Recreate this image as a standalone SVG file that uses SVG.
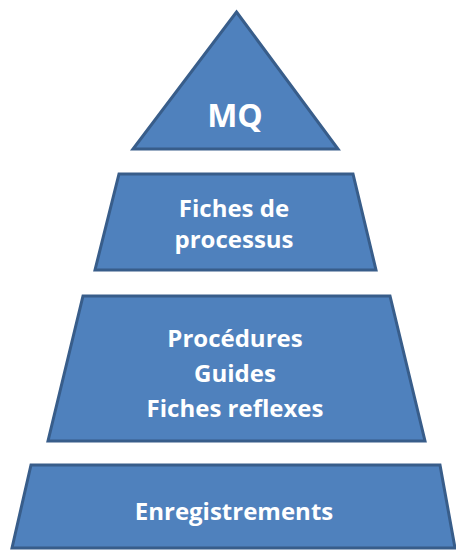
<svg xmlns="http://www.w3.org/2000/svg" width="456" height="550" viewBox="0 0 456 550">
<style>
.shape{fill:#4F81BD;stroke:#385D8A;stroke-width:3;stroke-linejoin:miter}
.lbl{font-family:"Open Sans","Liberation Sans",sans-serif;font-weight:bold;fill:#FFFFFF;text-anchor:middle;font-size:24px}
.big{font-size:32px}
</style>
<rect width="456" height="550" fill="#FFFFFF"/>
<g id="connectors"></g>
<g id="mq">
<polygon class="shape" points="236.5,12 338,149 133,149"/>
<text class="lbl big" x="235" y="127">MQ</text>
</g>
<g id="fiches-processus">
<polygon class="shape" points="119,174 353,174 376,270 95,270"/>
<text class="lbl" x="234" y="217">Fiches de</text>
<text class="lbl" x="234" y="248">processus</text>
</g>
<g id="procedures">
<polygon class="shape" points="83,296 390,296 425,441 48,441"/>
<text class="lbl" x="235" y="347">Procédures</text>
<text class="lbl" x="235" y="382">Guides</text>
<text class="lbl" x="235" y="417">Fiches reflexes</text>
</g>
<g id="enregistrements">
<polygon class="shape" points="31,465 440,465 455,548 12,548"/>
<text class="lbl" x="234" y="520">Enregistrements</text>
</g>
</svg>
